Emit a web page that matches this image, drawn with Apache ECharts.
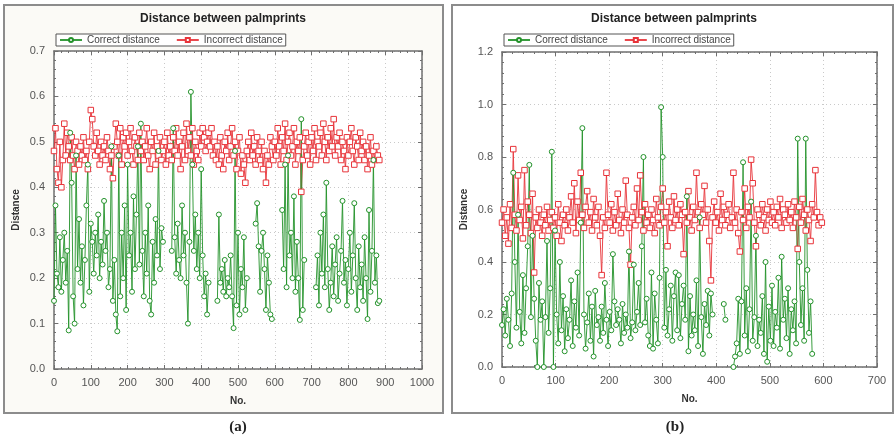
<!DOCTYPE html>
<html>
<head>
<meta charset="utf-8">
<script src="https://cdn.jsdelivr.net/npm/echarts@6/dist/echarts.min.js"></script>
<style>
  html, body { margin: 0; padding: 0; background: #fff; }
  #chart { width: 896px; height: 438px; }
</style>
</head>
<body>
<div id="chart"></div>
<script>
// panel (a): one value every 4 "No.", null = no point
var stepA = 4;
var correctA = [
  0.15,0.36,0.21,0.18,0.29,0.17,0.24,0.30,0.19,0.26,
  0.085,0.52,0.41,0.16,0.10,0.47,0.22,0.33,0.19,0.27,
  0.14,0.24,0.36,0.45,0.17,0.32,0.28,0.21,0.30,0.25,
  0.34,0.20,0.28,0.23,0.37,0.26,0.30,0.18,0.22,0.49,
  0.15,0.24,0.12,0.083,0.47,0.16,0.30,0.20,0.36,0.13,
  0.45,0.25,0.30,0.17,0.38,0.22,0.34,0.49,0.23,0.54,
  0.26,0.16,0.30,0.21,0.36,0.15,0.12,0.28,0.19,0.33,
  0.25,0.48,0.22,0.31,0.28,
  null,null,null,null,null,
  0.26,0.53,0.29,0.21,0.32,0.24,0.20,0.36,0.25,0.30,
  0.19,0.10,0.28,0.61,0.45,0.26,0.34,0.22,0.30,0.20,
  0.44,0.25,0.16,0.21,0.12,0.19,
  null,null,null,null,null,
  0.15,0.34,0.19,0.22,0.17,0.24,0.16,0.20,0.18,
  0.25,0.16,0.09,0.48,0.14,0.30,0.12,0.22,0.18,0.29,0.13,0.20,
  null,null,null,null,null,
  0.32,0.365,0.27,0.17,0.26,0.30,0.22,0.13,0.25,0.19,0.12,0.11,
  null,null,null,null,null,null,
  0.35,0.22,0.45,0.18,0.47,0.25,0.30,0.20,0.38,0.17,0.28,0.20,0.108,0.55,0.13,0.24,
  null,null,null,null,null,null,null,
  0.18,0.25,0.14,0.30,0.21,0.34,0.18,0.41,0.22,0.13,
  0.19,0.27,0.16,0.23,0.29,0.15,0.21,0.26,0.37,0.19,
  0.24,0.14,0.22,0.30,0.17,0.25,0.365,0.20,0.13,0.27,
  0.18,0.23,0.15,0.29,0.20,0.11,0.35,0.17,0.26,0.46,
  0.19,0.25,0.145,0.15
];
var incorrectA = [
  0.48,0.53,0.44,0.41,0.50,0.40,0.46,0.54,0.47,0.52,
  0.49,0.46,0.51,0.47,0.44,0.50,0.48,0.45,0.49,0.47,
  0.51,0.46,0.48,0.44,0.50,0.57,0.55,0.49,0.47,0.52,
  0.48,0.45,0.50,0.47,0.49,0.46,0.51,0.48,0.44,0.47,
  0.42,0.49,0.54,0.50,0.47,0.53,0.45,0.51,0.49,0.52,
  0.47,0.50,0.53,0.48,0.45,0.51,0.49,0.46,0.52,0.48,
  0.50,0.46,0.49,0.53,0.47,0.44,0.50,0.48,0.52,0.45,
  0.49,0.47,0.51,0.46,0.48,0.50,0.45,0.52,0.47,0.49,
  0.46,0.51,0.48,0.53,0.47,0.50,0.44,0.49,0.52,0.46,
  0.54,0.48,0.51,0.47,0.53,0.45,0.50,0.48,0.46,0.52,
  0.49,0.53,0.51,0.48,0.50,0.52,0.49,0.53,0.47,0.50,
  0.46,0.49,0.45,0.51,0.47,0.44,0.50,0.48,0.52,0.46,
  0.49,0.53,0.47,0.50,0.44,0.48,0.51,0.43,0.47,0.45,
  0.41,0.48,0.50,0.46,0.52,0.47,0.49,0.45,0.51,0.48,
  0.46,0.50,0.44,0.48,0.41,0.47,0.45,0.51,0.49,0.46,
  0.50,0.47,0.53,0.49,0.45,0.51,0.48,0.54,0.46,0.50,
  0.52,0.47,0.49,0.53,0.45,0.50,0.48,0.51,0.39,0.46,
  0.49,0.52,0.47,0.50,0.45,0.51,0.48,0.53,0.46,0.50,
  0.49,0.52,0.47,0.54,0.50,0.46,0.51,0.48,0.53,0.49,
  0.55,0.47,0.51,0.49,0.52,0.46,0.50,0.48,0.44,0.51,
  0.47,0.50,0.53,0.48,0.45,0.51,0.49,0.46,0.52,0.48,
  0.50,0.46,0.49,0.44,0.47,0.51,0.45,0.48,0.46,0.49,
  0.47,0.46
];

// panel (b): one value every 3 "No."
var stepB = 3;
var correctB = [
  0.16,0.22,0.12,0.26,0.18,0.08,0.28,0.74,0.40,0.15,
  0.58,0.21,0.09,0.35,0.13,0.30,0.46,0.77,0.19,0.50,
  0.26,0.10,0.0,0.32,0.18,0.25,0.0,0.19,0.48,0.13,
  0.30,0.82,0.0,0.52,0.20,0.09,0.40,0.14,0.27,0.06,
  0.22,0.11,0.18,0.33,0.08,0.25,0.15,0.36,0.12,0.55,
  0.91,0.20,0.07,0.17,0.28,0.10,0.23,0.04,0.29,0.16,
  0.19,0.10,0.23,0.13,0.32,0.18,0.08,0.21,0.14,0.43,
  0.25,0.16,0.22,0.18,0.09,0.24,0.13,0.20,0.15,0.44,
  0.11,0.17,0.39,0.14,0.21,0.32,0.16,0.46,0.80,0.17,
  0.26,0.12,0.08,0.36,0.07,0.28,0.18,0.09,0.34,0.99,
  0.80,0.15,0.37,0.12,0.22,0.31,0.10,0.27,0.36,0.14,
  0.35,0.11,0.24,0.31,0.18,0.65,0.06,0.27,0.12,0.20,
  0.14,0.33,0.08,0.57,0.19,0.05,0.24,0.16,0.29,0.12,
  0.28,0.20,
  null,null,null,null,null,null,
  0.24,0.18,
  null,null,null,null,
  0.0,0.04,0.09,0.26,0.05,0.25,
  0.78,0.12,0.30,0.06,0.22,0.63,0.10,0.19,0.50,0.08,
  0.18,0.13,0.27,0.05,0.40,0.02,0.23,0.10,0.31,0.08,
  0.21,0.15,0.34,0.07,0.42,0.18,0.26,0.11,0.30,0.05,
  0.22,0.14,0.25,0.09,0.87,0.40,0.16,0.30,0.10,0.87,
  0.37,0.13,0.25,0.05,
  null,null,null,null,null,null
];
var incorrectB = [
  0.55,0.60,0.50,0.57,0.47,0.62,0.53,0.83,0.58,0.52,
  0.73,0.56,0.61,0.49,0.75,0.54,0.63,0.58,0.51,0.66,
  0.36,0.57,0.53,0.60,0.55,0.50,0.58,0.54,0.61,0.52,
  0.56,0.59,0.53,0.57,0.50,0.62,0.55,0.48,0.58,0.54,
  0.60,0.52,0.57,0.65,0.55,0.70,0.51,0.63,0.56,0.74,
  0.58,0.53,0.61,0.67,0.55,0.59,0.52,0.64,0.57,0.54,
  0.61,0.50,0.35,0.57,0.53,0.74,0.58,0.55,0.62,0.52,
  0.59,0.54,0.66,0.56,0.51,0.60,0.55,0.71,0.58,0.53,
  0.39,0.57,0.61,0.54,0.68,0.56,0.73,0.59,0.52,0.62,
  0.55,0.58,0.53,0.60,0.56,0.51,0.64,0.57,0.54,0.61,
  0.68,0.55,0.59,0.46,0.63,0.57,0.53,0.65,0.56,0.60,
  0.54,0.62,0.58,0.43,0.59,0.55,0.67,0.57,0.52,0.61,
  0.56,0.74,0.59,0.53,0.62,0.58,0.69,0.55,0.60,0.48,
  0.33,0.57,0.63,0.55,0.59,0.52,0.66,0.56,0.61,0.54,
  0.58,0.62,0.53,0.57,0.74,0.55,0.60,0.51,0.44,0.59,
  0.56,0.68,0.53,0.61,0.57,0.79,0.70,0.55,0.46,0.60,
  0.58,0.54,0.62,0.57,0.52,0.60,0.56,0.63,0.55,0.59,
  0.54,0.61,0.57,0.64,0.53,0.60,0.58,0.55,0.62,0.56,
  0.59,0.53,0.63,0.57,0.45,0.61,0.55,0.64,0.58,0.52,
  0.60,0.56,0.48,0.62,0.57,0.75,0.59,0.54,0.57,0.55
];

var title = 'Distance between palmprints';
var names = ['Correct distance', 'Incorrect distance'];
var green = '#23922a';
var red = '#e8343a';
var frame = '#6f6f6f';

function toPairs(vals, step) {
  return vals.map(function (v, i) { return [i * step, v === null ? '-' : v]; });
}

var chart = echarts.init(document.getElementById('chart'), null, { renderer: 'canvas' });

function xAxes(grid, max) {
  var base = {
    gridIndex: grid, type: 'value', min: 0, max: max, interval: 100,
    axisLine: { show: true, onZero: false, lineStyle: { color: frame, width: 1.5 } },
    axisTick: { show: true, inside: true, length: 4, lineStyle: { color: frame } },
    minorTick: { show: true, splitNumber: 5, length: 2, lineStyle: { color: frame } }
  };
  var bottom = Object.assign({}, base, {
    position: 'bottom',
    name: 'No.', nameLocation: 'middle', nameGap: 27,
    nameTextStyle: { fontSize: 10, fontWeight: 'bold', color: '#333', fontFamily: 'Arial' },
    axisLabel: { color: '#555', fontSize: 11, margin: 8, fontFamily: 'Arial',
      formatter: function (v) { return String(v); } },
    splitLine: { show: true, lineStyle: { color: '#c9c9c9', type: [1, 3] } }
  });
  var top = Object.assign({}, base, {
    position: 'top', axisLabel: { show: false }, splitLine: { show: false }
  });
  return [bottom, top];
}

function yAxes(grid, max, interval) {
  var base = {
    gridIndex: grid, type: 'value', min: 0, max: max, interval: interval,
    axisLine: { show: true, onZero: false, lineStyle: { color: frame, width: 1.5 } },
    axisTick: { show: true, inside: true, length: 4, lineStyle: { color: frame } },
    minorTick: { show: true, splitNumber: 5, length: 2, lineStyle: { color: frame } }
  };
  var left = Object.assign({}, base, {
    position: 'left',
    name: 'Distance', nameLocation: 'middle', nameGap: 33,
    nameTextStyle: { fontSize: 10, fontWeight: 'bold', color: '#333', fontFamily: 'Arial' },
    axisLabel: { color: '#555', fontSize: 11, margin: 9, fontFamily: 'Arial',
      formatter: function (v) { return v.toFixed(1); } },
    splitLine: { show: true, lineStyle: { color: '#c9c9c9', type: [1, 3] } }
  });
  var right = Object.assign({}, base, {
    position: 'right', axisLabel: { show: false }, splitLine: { show: false }
  });
  return [left, right];
}

function lineSeries(name, data, xi, yi, color, symbol, size) {
  return {
    name: name, type: 'line', xAxisIndex: xi, yAxisIndex: yi,
    data: data, symbol: symbol, symbolSize: size, showAllSymbol: true,
    connectNulls: false, sampling: null,
    lineStyle: { color: color, width: 1, opacity: 0.9 },
    itemStyle: { color: '#ffffff', borderColor: color, borderWidth: 1 },
    emphasis: { disabled: true }
  };
}

function legend(left) {
  return {
    data: names, left: left, top: 34, orient: 'horizontal',
    itemWidth: 22, itemHeight: 5, itemGap: 16,
    padding: [1, 3], borderColor: '#555', borderWidth: 1, backgroundColor: '#fff',
    textStyle: { fontSize: 10, color: '#444', fontFamily: 'Arial' }
  };
}

function text(x, y, s, font) {
  return { type: 'text', x: x, y: y, z: 50,
    style: { text: s, font: font, fill: '#222', align: 'center', verticalAlign: 'middle' } };
}

var option = {
  animation: false,
  backgroundColor: '#fff',
  graphic: [
    { type: 'rect', z: -10, shape: { x: 4, y: 5, width: 439, height: 408 },
      style: { fill: '#fbfaf6', stroke: '#8c8c8c', lineWidth: 2 } },
    { type: 'rect', z: -10, shape: { x: 452, y: 5, width: 441, height: 408 },
      style: { fill: '#ffffff', stroke: '#8c8c8c', lineWidth: 2 } },
    text(223, 19, title, 'bold 12px Arial'),
    text(674, 19, title, 'bold 12px Arial'),
    text(238, 427, '(a)', 'bold 15px "Liberation Serif"'),
    text(675, 427, '(b)', 'bold 15px "Liberation Serif"')
  ],
  legend: [legend(56), legend(504)],
  grid: [
    { left: 54, top: 51, width: 368, height: 318, show: true, backgroundColor: '#fff', borderWidth: 0 },
    { left: 502, top: 52, width: 375, height: 315, show: true, backgroundColor: '#fff', borderWidth: 0 }
  ],
  xAxis: xAxes(0, 1000).concat(xAxes(1, 700)),
  yAxis: yAxes(0, 0.7, 0.1).concat(yAxes(1, 1.2, 0.2)),
  series: [
    lineSeries(names[1], toPairs(incorrectA, stepA), 0, 0, red, 'rect', 5.5),
    lineSeries(names[0], toPairs(correctA, stepA), 0, 0, green, 'circle', 5),
    lineSeries(names[1], toPairs(incorrectB, stepB), 2, 2, red, 'rect', 5.5),
    lineSeries(names[0], toPairs(correctB, stepB), 2, 2, green, 'circle', 5)
  ]
};
chart.setOption(option);
</script>
</body>
</html>
